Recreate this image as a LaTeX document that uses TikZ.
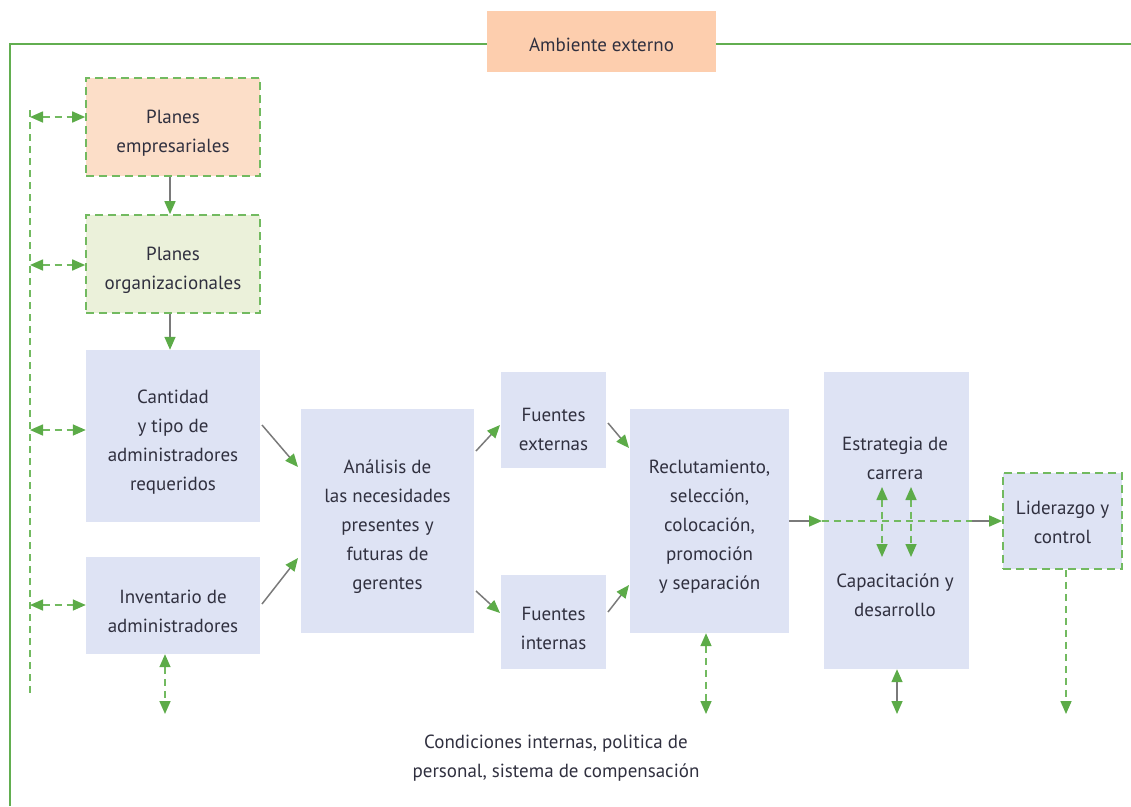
\documentclass[tikz,border=0pt]{standalone}
\usepackage{fontspec}
\setmainfont{PT Sans}
\usetikzlibrary{arrows.meta}
\definecolor{gline}{HTML}{62AE50}
\definecolor{gdash}{HTML}{72BA60}
\definecolor{ghead}{HTML}{5CAB48}
\definecolor{shaft}{HTML}{7A7A7A}
\definecolor{bluefill}{HTML}{DEE3F4}
\definecolor{peach}{HTML}{FCDEC8}
\definecolor{peachdark}{HTML}{FDCEAE}
\definecolor{lgreen}{HTML}{EBF1DA}
\definecolor{txt}{HTML}{30303F}
\tikzset{
  every node/.style={text=txt, font=\fontsize{19}{29}\selectfont, align=center, inner sep=0pt},
  box/.style={fill=bluefill, draw=none},
  dbox/.style={draw=gdash, line width=1.6pt, dash pattern=on 8pt off 5pt},
  lbl/.style={yshift=-6pt},
  tip/.style={-{Triangle[length=13pt,width=11pt,color=ghead]}},
  solidarrow/.style={draw=shaft, line width=1.5pt, tip},
  dashline/.style={draw=gdash, line width=1.6pt, dash pattern=on 7pt off 5pt},
  dbl/.style={dashline, {Triangle[length=13pt,width=11pt,color=ghead]}-{Triangle[length=13pt,width=11pt,color=ghead]}},
  dnarrow/.style={dashline, tip},
}
\begin{document}
\begin{tikzpicture}[x=1pt,y=-1pt]
\useasboundingbox (0,0) rectangle (1131,806);
% frame
\coordinate (fbl) at (10,806);
\coordinate (ftl) at (10,44);
\coordinate (ftr) at (1131,44);
\draw[gline, line width=2pt] (fbl) -- (ftl) -- (ftr);
\node[fill=peachdark, minimum width=229pt, minimum height=61pt] (amb) at (601.5,41.5) {};
\node[yshift=-3pt] (ambt) at (amb) {Ambiente externo};

% boxes
\node[box, fill=peach, dbox, minimum width=174pt, minimum height=98pt] (pe) at (173,127) {};
\node[box, fill=lgreen, dbox, minimum width=174pt, minimum height=98pt] (po) at (173,264) {};
\node[box, minimum width=174pt, minimum height=172pt] (cant) at (173,436) {};
\node[box, minimum width=174pt, minimum height=97pt] (inv) at (173,605.5) {};
\node[box, minimum width=173pt, minimum height=224pt] (anal) at (387.5,521) {};
\node[box, minimum width=105pt, minimum height=96pt] (fext) at (553.5,420) {};
\node[box, minimum width=105pt, minimum height=94pt] (fint) at (553.5,622) {};
\node[box, minimum width=159pt, minimum height=224pt] (recl) at (709.5,521) {};
\node[box, minimum width=145pt, minimum height=297pt] (estb) at (896.5,520.5) {};
\node[box, dbox, minimum width=119pt, minimum height=96pt] (lid) at (1062.5,521) {};

% texts
\node[lbl] (pet) at (pe) {Planes\\empresariales};
\node[lbl] (pot) at (po) {Planes\\organizacionales};
\node[lbl] (cantt) at (cant) {Cantidad\\y tipo de\\administradores\\requeridos};
\node[lbl] (invt) at (inv) {Inventario de\\administradores};
\node[lbl] (analt) at (anal) {Análisis de\\las necesidades\\presentes y\\futuras de\\gerentes};
\node[lbl, yshift=-3pt] (fextt) at (fext) {Fuentes\\externas};
\node[lbl] (fintt) at (fint) {Fuentes\\internas};
\node[lbl] (reclt) at (recl) {Reclutamiento,\\selección,\\colocación,\\promoción\\y separación};
\node (est) at (895,458) {Estrategia de\\carrera};
\node (cap) at (895,595) {Capacitación y\\desarrollo};
\node[yshift=-1pt] (lidt) at (lid) {Liderazgo y\\control};
\node (cond) at (556,758) {Condiciones internas, politica de\\personal, sistema de compensación};

% left dashed line
\coordinate (ltop) at (30,110);
\coordinate (lbot) at (30,693);
\draw[dashline] (ltop) -- (lbot);
\coordinate (l1) at (30,117);
\coordinate (l2) at (30,265);
\coordinate (l3) at (30,430);
\coordinate (l4) at (30,605);
\draw[dbl] (l1) -- (l1 -| pe.west);
\draw[dbl] (l2) -- (l2 -| po.west);
\draw[dbl] (l3) -- (l3 -| cant.west);
\draw[dbl] (l4) -- (l4 -| inv.west);

% vertical arrows
\coordinate (vx) at (170,0);
\draw[solidarrow] (pe.south -| vx) -- (po.north -| vx);
\draw[solidarrow] (po.south -| vx) -- (cant.north -| vx);

% diagonal arrows
\coordinate (d1a) at (262,425); \coordinate (d1b) at (298,467);
\coordinate (d2a) at (262,604); \coordinate (d2b) at (298,558);
\coordinate (d3a) at (476,451); \coordinate (d3b) at (500,425);
\coordinate (d4a) at (476,591); \coordinate (d4b) at (500,613);
\coordinate (d5a) at (608,423); \coordinate (d5b) at (629,448);
\coordinate (d6a) at (608,612); \coordinate (d6b) at (629,585);
\draw[solidarrow] (d1a) -- (d1b);
\draw[solidarrow] (d2a) -- (d2b);
\draw[solidarrow] (d3a) -- (d3b);
\draw[solidarrow] (d4a) -- (d4b);
\draw[solidarrow] (d5a) -- (d5b);
\draw[solidarrow] (d6a) -- (d6b);

% recl -> lid
\coordinate (m1) at (822,521);
\coordinate (m2) at (972,521);
\draw[solidarrow] (recl.east) -- (m1);
\draw[dashline] (m1) -- (m2);
\draw[solidarrow] (m2) -- (lid.west);

% inside estb
\coordinate (e1a) at (882,487); \coordinate (e1b) at (882,557);
\coordinate (e2a) at (911,487); \coordinate (e2b) at (911,557);
\draw[dbl] (e1a) -- (e1b);
\draw[dbl] (e2a) -- (e2b);

% bottom arrows
\coordinate (b1) at (165,714);
\coordinate (b2) at (706,714);
\coordinate (b3) at (897,714);
\coordinate (b4) at (1066,714);
\draw[dbl] (inv.south -| b1) -- (b1);
\draw[dbl] (recl.south -| b2) -- (b2);
\draw[draw=shaft, line width=1.5pt, {Triangle[length=13pt,width=11pt,color=ghead]}-{Triangle[length=13pt,width=11pt,color=ghead]}] (estb.south -| b3) -- (b3);
\draw[dnarrow] (lid.south -| b4) -- (b4);
\end{tikzpicture}
\end{document}
